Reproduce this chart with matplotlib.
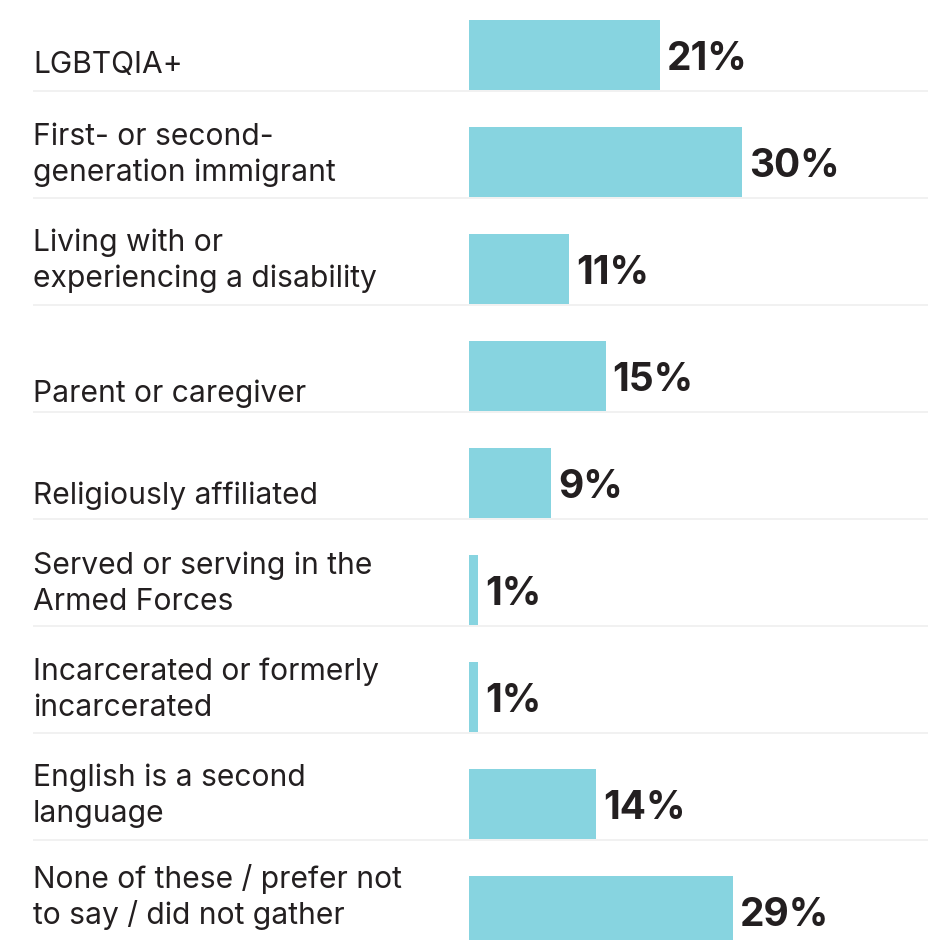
import matplotlib
matplotlib.use("Agg")
import matplotlib.pyplot as plt

# Share of respondents by identity group
categories = [
    "LGBTQIA+",
    "First- or second-\ngeneration immigrant",
    "Living with or\nexperiencing a disability",
    "Parent or caregiver",
    "Religiously affiliated",
    "Served or serving in the\nArmed Forces",
    "Incarcerated or formerly\nincarcerated",
    "English is a second\nlanguage",
    "None of these / prefer not\nto say / did not gather",
]
values = [21, 30, 11, 15, 9, 1, 1, 14, 29]
value_labels = [f"{v}%" for v in values]

BAR_COLOR = "#87D4E0"
TEXT_COLOR = "#231F20"
RULE_COLOR = "#EFEFEF"

W, H, DPI = 935, 940, 100
PX_PER_PCT = 9.1      # horizontal scale
BAR_LEFT_PX = 469     # where the zero line sits
ROW_PX = 107          # row pitch
FIRST_CENTER_PX = 55  # centre of the first bar

fig = plt.figure(figsize=(W / DPI, H / DPI), dpi=DPI)
ax = fig.add_axes([0, 0, 1, 1])
ax.set_xlim(-BAR_LEFT_PX / PX_PER_PCT, (W - BAR_LEFT_PX) / PX_PER_PCT)
ax.set_ylim((H - FIRST_CENTER_PX) / ROW_PX, -FIRST_CENTER_PX / ROW_PX)
ax.axis("off")

rows = list(range(len(categories)))
ax.barh(rows, values, height=70 / ROW_PX, left=0, color=BAR_COLOR, zorder=2)

# thin rules under each row
for i in rows[:-1]:
    ax.plot([33 / W, 928 / W], [i + 36 / ROW_PX] * 2, color=RULE_COLOR, lw=1.2,
            transform=ax.get_yaxis_transform(), zorder=1, solid_capstyle="butt")

label_font = dict(family=["Inter", "DejaVu Sans"], fontsize=21.6, color=TEXT_COLOR)
value_font = dict(family=["Inter", "DejaVu Sans"], fontsize=28, fontweight="bold",
                  color=TEXT_COLOR)

# baseline of the last label line, pixels below the bar centre
baseline_drop = [18, 19, 18, 26, 21, 20, 19, 18, 13]
LINE_GAP = 36

for i, (cat, lab, v) in enumerate(zip(categories, value_labels, values)):
    lines = cat.split("\n")
    n = len(lines)
    for k, line in enumerate(lines):
        dy = -baseline_drop[i] + (n - 1 - k) * LINE_GAP
        ax.annotate(line, xy=(33 / W, i), xycoords=("axes fraction", "data"),
                    xytext=(0, dy), textcoords="offset pixels",
                    ha="left", va="baseline", **label_font)
    ax.annotate(lab, xy=(v, i), xycoords="data",
                xytext=(7, -15), textcoords="offset pixels",
                ha="left", va="baseline", **value_font)

fig.savefig("out.png", dpi=DPI, facecolor="white")
